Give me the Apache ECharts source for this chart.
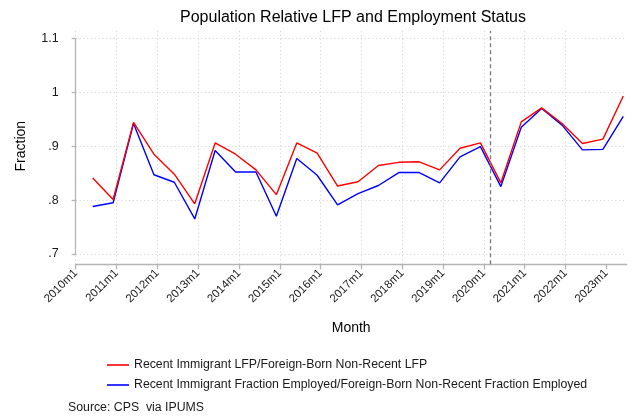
<!DOCTYPE html>
<html><head><meta charset="utf-8">
<script src="https://cdn.jsdelivr.net/npm/echarts@6/dist/echarts.min.js"></script>
<style>html,body{margin:0;padding:0;background:#fff}#c{width:634px;height:418px}</style>
</head><body><div id="c"></div>
<script>
// ---- data ----
const periods = ['2010m6','2010m12','2011m6','2011m12','2012m6','2012m12','2013m6','2013m12','2014m6','2014m12',
  '2015m6','2015m12','2016m6','2016m12','2017m6','2017m12','2018m6','2018m12','2019m6','2019m12',
  '2020m6','2020m12','2021m6','2021m12','2022m6','2022m12','2023m6'];
const lfpRatio = [0.841,0.801,0.944,0.885,0.848,0.793,0.906,0.885,0.856,0.810,
  0.906,0.887,0.826,0.834,0.864,0.870,0.871,0.856,0.896,0.906,
  0.832,0.945,0.971,0.942,0.905,0.913,0.993];
const empRatio = [0.788,0.795,0.942,0.847,0.833,0.765,0.892,0.852,0.852,0.770,
  0.877,0.846,0.791,0.812,0.827,0.851,0.851,0.832,0.880,0.899,
  0.825,0.935,0.970,0.939,0.893,0.894,0.955];
const xTickLabels = ['2010m1','2011m1','2012m1','2013m1','2014m1','2015m1','2016m1','2017m1','2018m1','2019m1','2020m1','2021m1','2022m1','2023m1'];
const yTickValues = [0.7,0.8,0.9,1.0,1.1];
const yTickLabels = ['.7','.8','.9','1','1.1'];
const markerPeriod = '2020m3';
const seriesNames = ['Recent Immigrant LFP/Foreign-Born Non-Recent LFP',
  'Recent Immigrant Fraction Employed/Foreign-Born Non-Recent Fraction Employed'];

// ---- helpers ----
function toIndex(p){ const a = p.split('m'); return (parseInt(a[0],10)-2010)*12 + (parseInt(a[1],10)-1); }
const xTickValues = xTickLabels.map(toIndex);
const xLabelMap = {}; xTickValues.forEach((v,i)=>{ xLabelMap[v]=xTickLabels[i]; });
const yLabelMap = {}; yTickValues.forEach((v,i)=>{ yLabelMap[v.toFixed(1)]=yTickLabels[i]; });
const FONT = '"Liberation Sans", Arial, sans-serif';
const AXIS_COLOR = '#b4b4b4';
const GRID_COLOR = '#d9d9d9';

const chart = echarts.init(document.getElementById('c'), null, {renderer:'canvas'});
chart.setOption({
  backgroundColor: '#fff',
  animation: false,
  textStyle: { fontFamily: FONT },
  title: {
    text: 'Population Relative LFP and Employment Status',
    left: 348, top: 5, textAlign: 'center',
    textStyle: { fontFamily: FONT, fontSize: 16, fontWeight: 'normal', color: '#000' }
  },
  legend: {
    orient: 'vertical', left: 102, top: 353,
    icon: 'rect', itemWidth: 22, itemHeight: 1.6, itemGap: 6,
    textStyle: { fontFamily: FONT, fontSize: 12.3, color: '#1a1a1a', padding: [0,0,0,0], lineHeight: 14 },
    data: seriesNames
  },
  graphic: [{
    type: 'text', left: 68, top: 402,
    style: { text: 'Source: CPS  via IPUMS', fontFamily: FONT, fontSize: 12.3, fill: '#1a1a1a' }
  }],
  grid: [
    { left: 75.7, right: 7.3, top: 31, bottom: 153.7, containLabel: false },
    { left: 75.7, right: 7.3, top: 38.3, bottom: 164, containLabel: false }
  ],
  xAxis: [{
    type: 'value', gridIndex: 0, min: 0, max: 162,
    axisLine: { show: true, lineStyle: { color: AXIS_COLOR, width: 1.3 } },
    axisTick: { show: true, length: 5, customValues: xTickValues, lineStyle: { color: AXIS_COLOR, width: 1.3 } },
    axisLabel: { customValues: xTickValues, rotate: 45, margin: 7, fontSize: 11.5, color: '#1a1a1a',
      fontFamily: FONT, formatter: v => xLabelMap[v] || '' },
    splitLine: { show: true, showMaxLine: false, lineStyle: { color: GRID_COLOR, type: [1.3,2.5], width: 1 } },
    name: 'Month', nameLocation: 'middle', nameGap: 57,
    nameTextStyle: { fontFamily: FONT, fontSize: 14, color: '#000' }
  }, {
    type: 'value', gridIndex: 1, min: 0, max: 162, show: false
  }],
  yAxis: [{
    type: 'value', gridIndex: 0, min: 0.6809, max: 1.1135, show: false
  }, {
    type: 'value', gridIndex: 1, min: 0.7, max: 1.1, interval: 0.1, offset: 10,
    axisLine: { show: true, lineStyle: { color: AXIS_COLOR, width: 1.3 } },
    axisTick: { show: true, length: 4, lineStyle: { color: AXIS_COLOR, width: 1.3 } },
    axisLabel: { margin: 7, fontSize: 12.5, color: '#1a1a1a', fontFamily: FONT,
      formatter: v => yLabelMap[v.toFixed(1)] || '' },
    splitLine: { show: true, lineStyle: { color: GRID_COLOR, type: [1.3,2.5], width: 1 } },
    name: 'Fraction', nameLocation: 'middle', nameGap: 38, nameRotate: 90,
    nameTextStyle: { fontFamily: FONT, fontSize: 14, color: '#000' }
  }],
  series: [{
    name: seriesNames[0], type: 'line', xAxisIndex: 0, yAxisIndex: 0,
    data: periods.map((p,i)=>[toIndex(p), lfpRatio[i]]),
    symbol: 'none', lineStyle: { color: '#ff0000', width: 1.4 }, itemStyle: { color: '#ff0000' },
    z: 3,
    markLine: {
      silent: true, symbol: ['none','none'], label: { show: false },
      lineStyle: { color: '#7a7a7a', type: [4,3], width: 1.3 },
      data: [{ xAxis: toIndex(markerPeriod) }]
    }
  }, {
    name: seriesNames[1], type: 'line', xAxisIndex: 0, yAxisIndex: 0,
    data: periods.map((p,i)=>[toIndex(p), empRatio[i]]),
    symbol: 'none', lineStyle: { color: '#0000ff', width: 1.4 }, itemStyle: { color: '#0000ff' },
    z: 2
  }]
});
</script></body></html>
